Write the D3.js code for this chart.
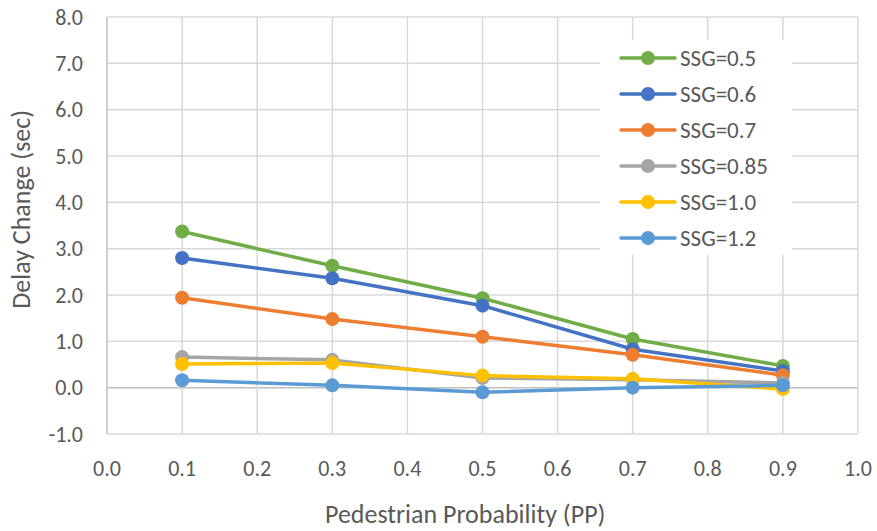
<!DOCTYPE html>
<html>
<head>
<meta charset="utf-8">
<script src="https://cdn.jsdelivr.net/npm/d3@7"></script>
<style>
  body { margin: 0; background: #fff; }
  svg text { font-family: Carlito, Lato, "Open Sans", sans-serif; fill: #595959; }
</style>
</head>
<body>
<svg id="mysvg"></svg>
<script>
const w = 877, h = 531;

const xValues = [0.1, 0.3, 0.5, 0.7, 0.9];
const seriesNames = ["SSG=0.5", "SSG=0.6", "SSG=0.7", "SSG=0.85", "SSG=1.0", "SSG=1.2"];
const colors = ["#70AD47", "#4472C4", "#ED7D31", "#A5A5A5", "#FFC000", "#5B9BD5"];
const ssg05 = [3.37, 2.63, 1.93, 1.05, 0.47];
const ssg06 = [2.80, 2.36, 1.77, 0.83, 0.36];
const ssg07 = [1.94, 1.48, 1.10, 0.71, 0.27];
const ssg085 = [0.66, 0.60, 0.21, 0.17, 0.10];
const ssg10 = [0.51, 0.53, 0.26, 0.19, -0.03];
const ssg12 = [0.16, 0.05, -0.10, 0.00, 0.05];
const xTicks = [0, 0.1, 0.2, 0.3, 0.4, 0.5, 0.6, 0.7, 0.8, 0.9, 1.0];
const yTicks = [-1, 0, 1, 2, 3, 4, 5, 6, 7, 8];

const allSeries = [ssg05, ssg06, ssg07, ssg085, ssg10, ssg12];

const margin = { left: 107, right: 19, top: 17, bottom: 97 };

const xScale = d3.scaleLinear()
    .domain([0, 1])
    .range([margin.left, w - margin.right]);

const yScale = d3.scaleLinear()
    .domain([-1, 8])
    .range([h - margin.bottom, margin.top]);

const fmt = d => d.toFixed(1);

const svg = d3.select("#mysvg")
    .attr("width", w)
    .attr("height", h);

// gridlines
svg.append("g")
    .selectAll("line")
    .data(yTicks)
    .enter().append("line")
    .attr("x1", margin.left).attr("x2", w - margin.right)
    .attr("y1", d => yScale(d)).attr("y2", d => yScale(d))
    .attr("stroke", d => d === 0 ? "#bfbfbf" : "#d9d9d9")
    .attr("stroke-width", 1.5);

svg.append("g")
    .selectAll("line")
    .data(xTicks)
    .enter().append("line")
    .attr("x1", d => xScale(d)).attr("x2", d => xScale(d))
    .attr("y1", margin.top).attr("y2", h - margin.bottom)
    .attr("stroke", d => d === 0 ? "#bfbfbf" : "#d9d9d9")
    .attr("stroke-width", 1.5);

// tick labels
svg.append("g")
    .selectAll("text")
    .data(yTicks)
    .enter().append("text")
    .attr("x", margin.left - 24)
    .attr("y", d => yScale(d))
    .attr("dy", "0.35em")
    .attr("text-anchor", "end")
    .style("font-size", "22px")
    .text(fmt);

svg.append("g")
    .selectAll("text")
    .data(xTicks)
    .enter().append("text")
    .attr("x", d => xScale(d))
    .attr("y", h - margin.bottom + 42)
    .attr("text-anchor", "middle")
    .style("font-size", "22px")
    .text(fmt);

// axis titles
svg.append("text")
    .attr("x", xScale(0.477))
    .attr("y", 523)
    .attr("text-anchor", "middle")
    .style("font-size", "26px")
    .text("Pedestrian Probability (PP)");

svg.append("text")
    .attr("transform", "translate(30," + yScale(3.85) + ") rotate(-90)")
    .attr("text-anchor", "middle")
    .style("font-size", "26px")
    .text("Delay Change (sec)");

// series
const line = d3.line()
    .x((d, i) => xScale(xValues[i]))
    .y(d => yScale(d));

allSeries.forEach((s, k) => {
    const g = svg.append("g");
    g.append("path")
        .datum(s)
        .attr("fill", "none")
        .attr("stroke", colors[k])
        .attr("stroke-width", 3.5)
        .attr("stroke-linejoin", "round")
        .attr("d", line);
    g.selectAll("circle")
        .data(s)
        .enter().append("circle")
        .attr("cx", (d, i) => xScale(xValues[i]))
        .attr("cy", d => yScale(d))
        .attr("r", 7)
        .attr("fill", colors[k]);
});

// legend
const legend = svg.append("g");
legend.append("rect")
    .attr("x", 600).attr("y", 40)
    .attr("width", 192).attr("height", 215)
    .attr("fill", "#fff");

const rows = legend.selectAll("g.row")
    .data(seriesNames)
    .enter().append("g")
    .attr("class", "row")
    .attr("transform", (d, i) => "translate(0," + (58 + i * 36) + ")");

rows.append("line")
    .attr("x1", 621).attr("x2", 675)
    .attr("stroke", (d, i) => colors[i])
    .attr("stroke-width", 3.5)
    .attr("stroke-linecap", "round");

rows.append("circle")
    .attr("cx", 648).attr("r", 7)
    .attr("fill", (d, i) => colors[i]);

rows.append("text")
    .attr("x", 680)
    .attr("dy", "0.35em")
    .style("font-size", "23px")
    .text(d => d);
</script>
</body>
</html>
